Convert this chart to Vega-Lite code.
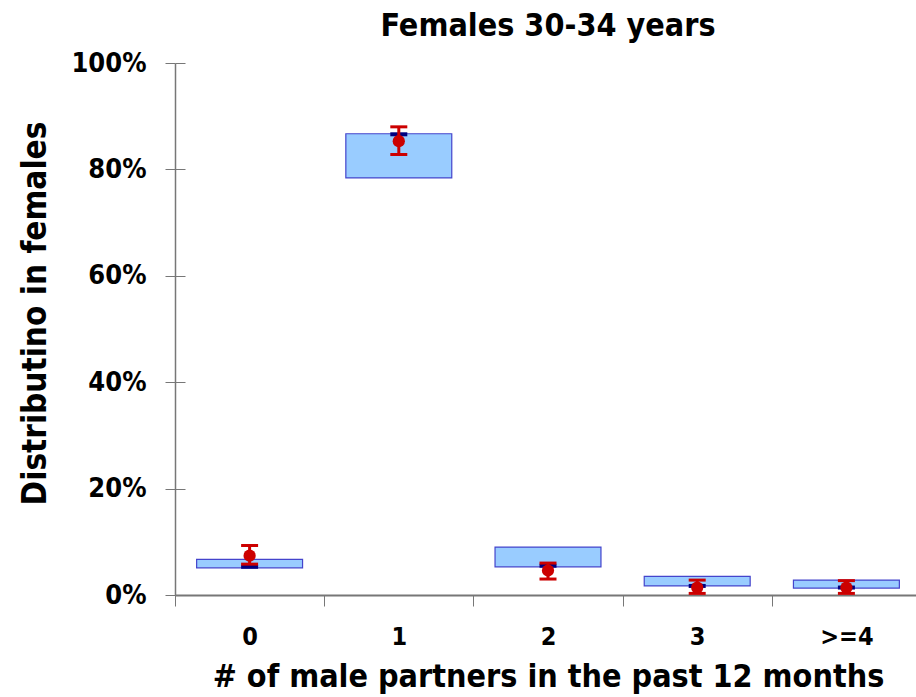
{
  "$schema": "https://vega.github.io/schema/vega-lite/v6.json",
  "width": 746,
  "height": 532,
  "autosize": "none",
  "padding": {"left": 175, "top": 63, "right": 0, "bottom": 102},
  "background": "white",
  "config": {
    "view": {"stroke": null},
    "font": "DejaVu Sans Condensed, DejaVu Sans"
  },
  "title": {
    "text": "Females 30-34 years",
    "fontSize": 32,
    "fontWeight": "bold",
    "font": "DejaVu Sans Condensed, DejaVu Sans",
    "color": "black",
    "offset": 6
  },
  "data": {
    "values": [
      {"partners": "0", "box_lo": 0.051, "box_hi": 0.067, "est": 0.074, "lo": 0.058, "hi": 0.093, "model": 0.053},
      {"partners": "1", "box_lo": 0.784, "box_hi": 0.867, "est": 0.853, "lo": 0.828, "hi": 0.880, "model": 0.866},
      {"partners": "2", "box_lo": 0.053, "box_hi": 0.090, "est": 0.046, "lo": 0.030, "hi": 0.060, "model": 0.055},
      {"partners": "3", "box_lo": 0.017, "box_hi": 0.035, "est": 0.014, "lo": 0.003, "hi": 0.028, "model": 0.017},
      {"partners": ">=4", "box_lo": 0.013, "box_hi": 0.028, "est": 0.014, "lo": 0.003, "hi": 0.027, "model": 0.014}
    ]
  },
  "encoding": {
    "x": {
      "field": "partners",
      "type": "nominal",
      "sort": null,
      "scale": {"paddingInner": 0, "paddingOuter": 0},
      "axis": {
        "title": "# of male partners in the past 12 months",
        "titleFontSize": 32,
        "titleFontWeight": "bold",
        "titleColor": "black",
        "titlePadding": 12,
        "labelAngle": 0,
        "labelFontSize": 25,
        "labelFontWeight": "bold",
        "labelColor": "black",
        "labelPadding": 18,
        "tickBand": "extent",
        "tickSize": 11,
        "tickColor": "#777777",
        "domainColor": "#777777",
        "domainWidth": 2
      }
    }
  },
  "resolve": {"axis": {"y": "independent"}},
  "layer": [
    {
      "mark": {"type": "bar", "width": {"band": 0.71}, "fill": "#99ccff", "stroke": "#4444cc", "strokeWidth": 1.2},
      "encoding": {
        "y": {
          "field": "box_lo",
          "type": "quantitative",
          "scale": {"domain": [0, 1]},
          "axis": {
            "title": "Distributino in females",
            "titleFontSize": 33,
            "titleFontWeight": "bold",
            "titleColor": "black",
            "titlePadding": 18,
            "titleY": 250,
            "format": ".0%",
            "values": [0, 0.2, 0.4, 0.6, 0.8, 1],
            "labelOverlap": false,
            "labelFontSize": 27,
            "labelFontWeight": "bold",
            "labelColor": "black",
            "labelPadding": 19,
            "tickSize": 10,
            "tickColor": "#777777",
            "domainColor": "#777777",
            "domainWidth": 1.5,
            "grid": false
          }
        },
        "y2": {"field": "box_hi"}
      }
    },
    {
      "mark": {"type": "tick", "color": "#000080", "size": 17, "thickness": 4, "opacity": 1},
      "encoding": {
        "y": {
          "field": "model",
          "type": "quantitative",
          "axis": {
            "orient": "left",
            "offset": -10,
            "title": null,
            "labels": false,
            "domain": false,
            "grid": false,
            "values": [0, 0.2, 0.4, 0.6, 0.8, 1],
            "tickSize": 10,
            "tickColor": "#777777"
          }
        }
      }
    },
    {
      "mark": {"type": "rule", "color": "#cc0000", "strokeWidth": 3},
      "encoding": {
        "y": {"field": "lo", "type": "quantitative", "axis": null},
        "y2": {"field": "hi"}
      }
    },
    {
      "mark": {"type": "tick", "color": "#cc0000", "size": 17, "thickness": 3, "opacity": 1},
      "encoding": {"y": {"field": "lo", "type": "quantitative", "axis": null}}
    },
    {
      "mark": {"type": "tick", "color": "#cc0000", "size": 17, "thickness": 3, "opacity": 1},
      "encoding": {"y": {"field": "hi", "type": "quantitative", "axis": null}}
    },
    {
      "mark": {"type": "circle", "color": "#cc0000", "size": 150, "opacity": 1},
      "encoding": {
        "y": {"field": "est", "type": "quantitative", "axis": null},
        "tooltip": [
          {"field": "partners", "type": "nominal"},
          {"field": "est", "type": "quantitative", "format": ".1%"}
        ]
      }
    }
  ]
}
